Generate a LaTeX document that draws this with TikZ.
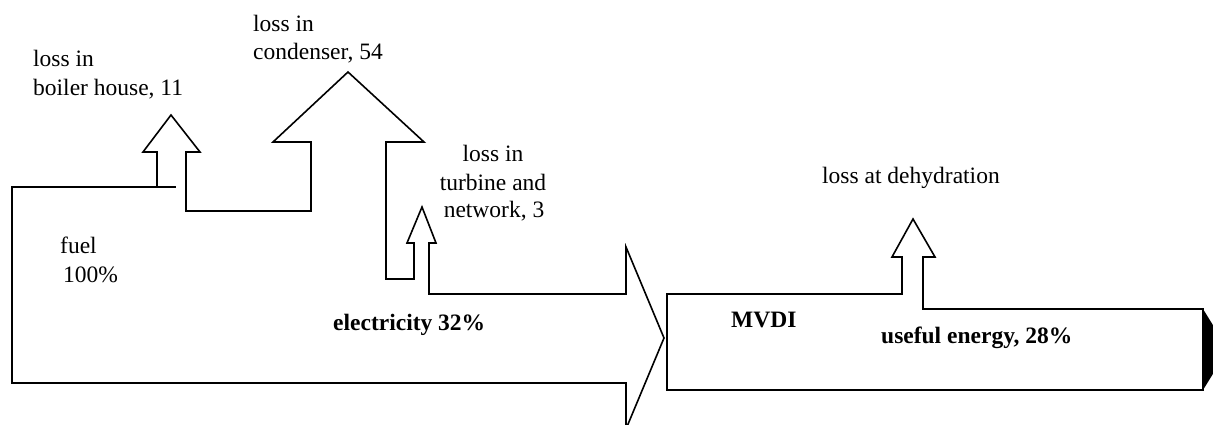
\documentclass[tikz,border=0pt]{standalone}
\usepackage{fontspec}
\setmainfont{Liberation Serif}
\begin{document}
\begin{tikzpicture}[x=1pt,y=-1pt,
  flow/.style={draw=black,line width=1.6pt,line join=miter,fill=white},
  lbl/.style={inner sep=0pt,font=\fontsize{23.5}{28.5}\selectfont},
  blbl/.style={inner sep=0pt,font=\fontsize{23.5}{28.5}\selectfont\bfseries}]
\useasboundingbox (0,0) rectangle (1213,425);
\clip (0,0) rectangle (1213,425);
% fuel flow with loss branches
\draw[flow] (12,383) -- (12,187) -- (157,187) -- (157,152) -- (143,152) -- (171,115)
  -- (200,152) -- (186,152) -- (186,211) -- (311,211) -- (311,142) -- (273,142)
  -- (348,72) -- (424,142) -- (386,142) -- (386,279) -- (414,279) -- (414,243)
  -- (407,243) -- (422,207) -- (436,243) -- (429,243) -- (429,294) -- (626,294)
  -- (626,247) -- (664,338) -- (626,429) -- (626,383) -- cycle;
\draw[line width=1.6pt] (157,187) -- (176,187);
% MVDI box with dehydration loss
\draw[flow] (667,294) -- (902,294) -- (902,257) -- (892,257) -- (913,219) -- (935,257)
  -- (923,257) -- (923,309) -- (1203,309) -- (1203,390) -- (667,390) -- cycle;
\fill[black] (1203,309) -- (1228,349.5) -- (1203,390) -- cycle;
% labels
\node[lbl,anchor=base west] (lb1) at (33,67) {loss in};
\node[lbl,anchor=base west] (lb2) at (33,96) {boiler house, 11};
\node[lbl,anchor=base west] (lc1) at (253,32) {loss in};
\node[lbl,anchor=base west] (lc2) at (253,60) {condenser, 54};
\node[lbl,anchor=base] (lt1) at (493,162) {loss in};
\node[lbl,anchor=base] (lt2) at (493,190) {turbine and};
\node[lbl,anchor=base] (lt3) at (494,217) {network, 3};
\node[lbl,anchor=base west] (fu1) at (60,253) {fuel};
\node[lbl,anchor=base west] (fu2) at (63,282) {100\%};
\node[blbl,anchor=base west] (el) at (333,330) {electricity 32\%};
\node[blbl,anchor=base west] (mv) at (731,327) {MVDI};
\node[blbl,anchor=base west] (ue) at (881,343) {useful energy, 28\%};
\node[lbl,anchor=base west] (ld) at (822,183) {loss at dehydration};
\end{tikzpicture}
\end{document}
